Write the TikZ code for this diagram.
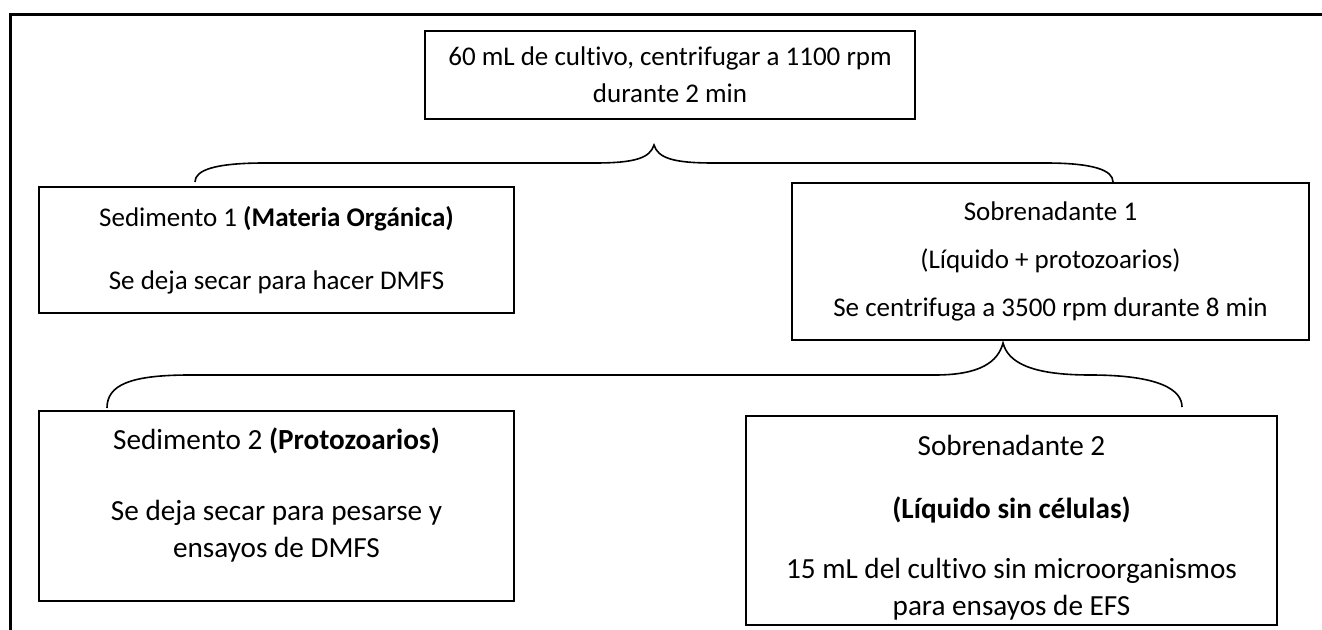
\documentclass[tikz,border=0pt]{standalone}
\usepackage{fontspec}
\setmainfont{Carlito}[Ligatures=CommonOff]
\newcommand{\chico}{\fontsize{13.5}{18.5}\selectfont}
\newcommand{\grande}{\fontsize{14.6}{18.5}\selectfont}
\tikzset{
  caja/.style={draw, line width=1pt, align=center, inner sep=0pt},
  llave/.style={line width=0.8pt},
  marco/.style={line width=1.5pt},
}

\begin{document}
\begin{tikzpicture}[x=0.5pt,y=-0.5pt]
   \useasboundingbox (0,0) rectangle (1322,630);
   \draw[marco] (10,630) -- (10,15) -- (1322,15);
   \node[caja, font=\chico, minimum width=245pt, minimum height=44pt] (cultivo) at (670,75)
      {60 mL de cultivo, centrifugar a 1100 rpm\\durante 2 min};
   \node[caja, font=\chico, minimum width=237.5pt, minimum height=63pt] (sed1) at (276.5,250)
      {Sedimento 1 \textbf{(Materia Orgánica)}\\[13pt]Se deja secar para hacer DMFS};
   \node[caja, font=\chico, minimum width=258.5pt, minimum height=78.5pt] (sob1) at (1050.5,261.5)
      {Sobrenadante 1\\[5.5pt](Líquido + protozoarios)\\[5.5pt]Se centrifuga a 3500 rpm durante 8 min};
   \node[caja, font=\grande, minimum width=237.5pt, minimum height=95pt] (sed2) at (276.5,506)
      {Sedimento 2 \textbf{(Protozoarios)}\\[17pt]Se deja secar para pesarse y\\ensayos de DMFS\rule[-13pt]{0pt}{13pt}};
   \node[caja, font=\grande, minimum width=265.5pt, minimum height=104.5pt] (sob2) at (1011.5,520.5)
      {\rule{0pt}{17pt}Sobrenadante 2\\[13pt]\textbf{(Líquido sin células)}\\[11.5pt]15 mL del cultivo sin microorganismos\\para ensayos de EFS};
   % llaves
   \coordinate (b1izq) at (195,182);
   \coordinate (b1pico) at (654,145);
   \coordinate (b1der) at (1113,182);
   \coordinate (b2izq) at (107,408);
   \coordinate (b2pico) at (1003,343);
   \coordinate (b2der) at (1182,407);
   \draw[llave] (b1izq) .. controls (195,170) and (215,163) .. (265,163) -- (595,163)
      .. controls (635,163) and (650,158) .. (b1pico)
      .. controls (658,158) and (673,163) .. (713,163) -- (1045,163)
      .. controls (1093,163) and (1113,170) .. (b1der);
   \draw[llave] (b2izq) .. controls (107,385) and (130,375) .. (190,375) -- (935,375)
      .. controls (980,375) and (998,362) .. (b2pico)
      .. controls (1008,362) and (1030,375) .. (1090,375)
      .. controls (1160,375) and (1182,390) .. (b2der);
\end{tikzpicture}
\end{document}
